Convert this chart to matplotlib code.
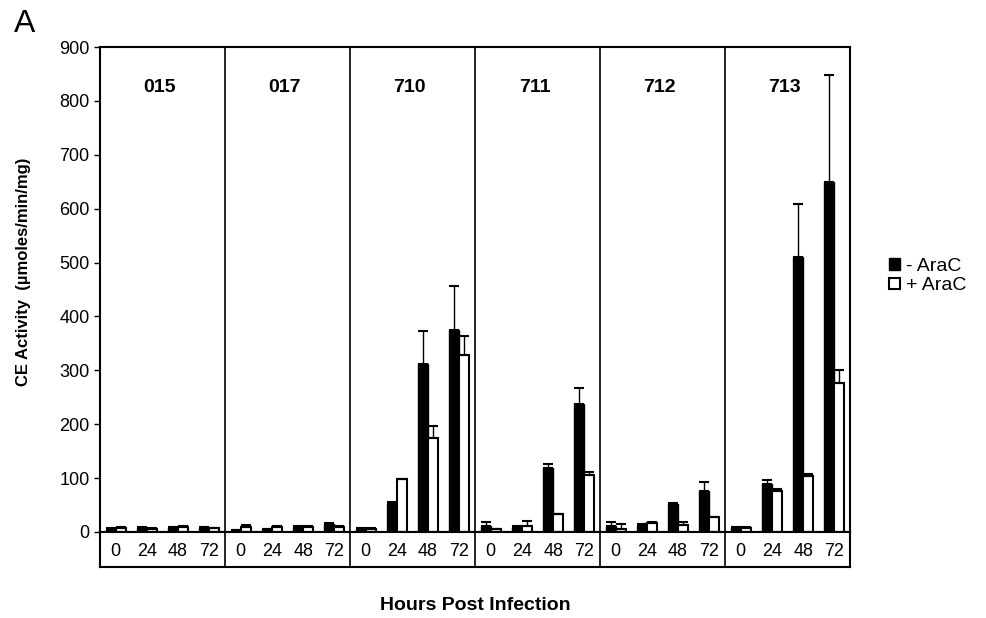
import matplotlib.pyplot as plt
import numpy as np
from matplotlib.patches import Patch

plt.rcParams['font.family'] = ['Liberation Sans', 'DejaVu Sans']

# cell lines and sampling times
lines = ["015", "017", "710", "711", "712", "713"]
hours = ["0", "24", "48", "72"]

# CE activity, - AraC (black) and + AraC (white), 4 time points per line
minus = [5, 7, 7, 8, 3, 5, 10, 15, 5, 52, 312, 375,
         11, 10, 119, 237, 12, 12, 52, 77, 8, 89, 511, 649]
minus_err = [2, 2, 2, 1, 1, 1, 1, 1, 3, 4, 61, 81,
             8, 1, 7, 31, 7, 2, 1, 16, 1, 7, 97, 199]
plus = [8, 6, 10, 7, 10, 10, 10, 10, 5, 98, 174, 328,
        5, 12, 33, 105, 6, 17, 13, 27, 8, 77, 103, 276]
plus_err = [1, 1, 1, 1, 3, 2, 1, 1, 3, 1, 23, 36,
            1, 9, 1, 7, 9, 2, 5, 1, 1, 3, 4, 24]

W, H = 987, 618
fig = plt.figure(figsize=(W / 100, H / 100), dpi=100)
ax = fig.add_axes([100 / W, 86 / H, 750 / W, 485 / H])
axl = fig.add_axes([100 / W, 51 / H, 750 / W, 35 / H])

x = np.arange(len(minus))
bw = 0.32
ax.bar(x - bw / 2, minus, bw, color="black", edgecolor="black", linewidth=1)
ax.bar(x + bw / 2, plus, bw, color="white", edgecolor="black", linewidth=1.5)
ax.errorbar(x - bw / 2, minus, yerr=[np.zeros(len(x)), minus_err], fmt="none",
            ecolor="black", elinewidth=1, capsize=3.5, capthick=1.5)
ax.errorbar(x + bw / 2, plus, yerr=[np.zeros(len(x)), plus_err], fmt="none",
            ecolor="black", elinewidth=1, capsize=3.5, capthick=1.5)

n = len(hours)
ax.set_xlim(-0.5, len(x) - 0.5)
ax.set_ylim(0, 900)
ax.set_yticks(range(0, 901, 100))
ax.tick_params(axis="y", labelsize=13, length=4, width=1, direction="out")
ax.set_xticks([])
for s in ax.spines.values():
    s.set_linewidth(1.5)

for k, name in enumerate(lines):
    ax.text(k * n + 1.4, 825, name, ha="center", va="center",
            fontsize=14, fontweight="bold")
    if k > 0:
        ax.axvline(k * n - 0.5, color="black", lw=1.2)
        axl.axvline(k * n - 0.5, color="black", lw=1.2)

# label row under the bars
axl.set_xlim(ax.get_xlim())
axl.set_ylim(0, 1)
axl.set_xticks([])
axl.set_yticks([])
for s in axl.spines.values():
    s.set_linewidth(1.5)
for i in x:
    axl.text(i, 0.45, hours[i % n], ha="center", va="center", fontsize=13)

ax.set_ylabel("CE Activity  (\u00b5moles/min/mg)", fontsize=12,
              fontweight="bold")
ax.yaxis.set_label_coords(-0.092, 0.536)
fig.text(475 / W, 1 - 606 / H, "Hours Post Infection", ha="center",
         va="center", fontsize=14, fontweight="bold")
fig.text(14 / W, 1 - 24 / H, "A", ha="left", va="center", fontsize=23)

handles = [Patch(facecolor="black", edgecolor="black", lw=1),
           Patch(facecolor="white", edgecolor="black", lw=1.5)]
fig.legend(handles, ["- AraC", "+ AraC"], loc="center left",
           bbox_to_anchor=(872 / W, 1 - 276 / H), frameon=False,
           fontsize=14, handlelength=0.55, handleheight=0.55,
           handletextpad=0.3, labelspacing=0.15)

fig.savefig("out.png", dpi=100)
